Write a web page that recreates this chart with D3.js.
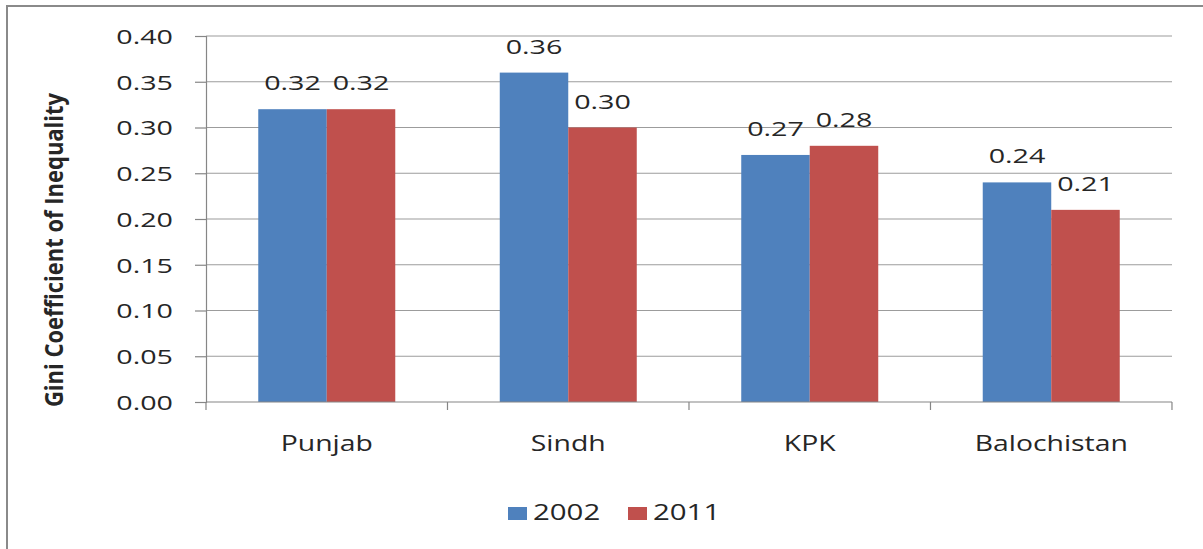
<!DOCTYPE html>
<html>
<head>
<meta charset="utf-8">
<script src="https://cdn.jsdelivr.net/npm/d3@7"></script>
<style>
  body { margin: 0; background: #fff; }
  text { font-family: "Open Sans", sans-serif; fill: #262626; }
</style>
</head>
<body>
<svg id="chart" width="1203" height="549"></svg>
<script>
const provinces = ["Punjab", "Sindh", "KPK", "Balochistan"]
const years = ["2002", "2011"]
const gini2002 = [0.32, 0.36, 0.27, 0.24]
const gini2011 = [0.32, 0.30, 0.28, 0.21]
const yTicks = [0, 0.05, 0.10, 0.15, 0.20, 0.25, 0.30, 0.35, 0.40]
const colours = ["#4F81BD", "#C0504D"]

// text in the picture is stretched sideways
const SX = 1.4

let svg = d3.select("#chart"),
    margin = {top: 36, left: 206, right: 31, bottom: 147},
    width = +svg.attr("width") - margin.left - margin.right,
    height = +svg.attr("height") - margin.top - margin.bottom

// outer frame, cut off at the right and bottom
svg.append("rect")
   .attr("x", 7).attr("y", 6)
   .attr("width", 1300).attr("height", 700)
   .attr("fill", "#fff")
   .attr("stroke", "#8a8a8a")
   .attr("stroke-width", 2)

let focus = svg.append("g")
               .attr("transform", "translate(" + margin.left + "," + margin.top + ")")

let x = d3.scaleBand()
          .domain(provinces)
          .range([0, width])
          .paddingInner(0.4327)
          .paddingOuter(0.2164)

let xs = d3.scaleBand()
           .domain(years)
           .range([0, x.bandwidth()])

let y = d3.scaleLinear()
          .domain([0, 0.40])
          .range([height, 0])

let series = years.map((yr, i) => ({
  year: yr,
  colour: colours[i],
  values: (i == 0 ? gini2002 : gini2011).map((v, j) => ({province: provinces[j], value: v}))
}))

// gridlines
focus.append("g")
     .selectAll("line")
     .data(yTicks.slice(1))
     .join("line")
     .attr("x1", 0).attr("x2", width)
     .attr("y1", d => y(d)).attr("y2", d => y(d))
     .attr("stroke", "#9c9c9c")
     .attr("stroke-width", 1.2)

// y axis
let yAxis = focus.append("g")
                 .call(d3.axisLeft(y).tickValues(yTicks).tickSize(11).tickFormat(d3.format(".2f")))
yAxis.select(".domain").attr("stroke", "#868686").attr("stroke-width", 1.2)
yAxis.selectAll(".tick line").attr("stroke", "#868686").attr("stroke-width", 1.2)
yAxis.selectAll(".tick text").remove()
yAxis.selectAll(".tick")
     .append("text")
     .attr("text-anchor", "end")
     .attr("dy", "0.36em")
     .attr("transform", "translate(-33,0) scale(" + SX + ",1)")
     .style("font-size", "20.5px")
     .text(d => d3.format(".2f")(d))

// bars
let groups = focus.selectAll(".series")
                  .data(series)
                  .join("g")
                  .attr("class", "series")
                  .attr("fill", d => d.colour)

groups.selectAll("rect")
      .data(d => d.values.map(v => ({...v, year: d.year})))
      .join("rect")
      .attr("x", d => x(d.province) + xs(d.year))
      .attr("width", xs.bandwidth())
      .attr("y", d => y(d.value))
      .attr("height", d => height - y(d.value))

// data labels
groups.selectAll("text")
      .data(d => d.values.map(v => ({...v, year: d.year})))
      .join("text")
      .attr("text-anchor", "middle")
      .attr("transform", d => "translate(" + (x(d.province) + xs(d.year) + xs.bandwidth() / 2) + "," + (y(d.value) - 19) + ") scale(" + SX + ",1)")
      .style("font-size", "20.5px")
      .text(d => d3.format(".2f")(d.value))

// x axis with ticks between categories
let xAxis = focus.append("g")
                 .attr("transform", "translate(0," + height + ")")
xAxis.append("line")
     .attr("x1", 0).attr("x2", width)
     .attr("stroke", "#868686").attr("stroke-width", 1.2)
xAxis.selectAll(".sep")
     .data(d3.range(provinces.length + 1))
     .join("line")
     .attr("class", "sep")
     .attr("x1", i => i * x.step()).attr("x2", i => i * x.step())
     .attr("y1", 0).attr("y2", 8)
     .attr("stroke", "#868686").attr("stroke-width", 1.2)
xAxis.selectAll(".cat")
     .data(provinces)
     .join("text")
     .attr("class", "cat")
     .attr("text-anchor", "middle")
     .attr("transform", d => "translate(" + (x(d) + x.bandwidth() / 2) + ",49) scale(1.32,1)")
     .style("font-size", "21.5px")
     .text(d => d)

// y label
svg.append("text")
   .attr("text-anchor", "middle")
   .attr("transform", "translate(63,250) scale(1.1,1) rotate(-90)")
   .style("font-size", "22px")
   .style("font-weight", "bold")
   .text("Gini Coefficient of Inequality")

// legend
let legend = svg.append("g")
                .attr("transform", "translate(508,520)")
let items = legend.selectAll("g")
                  .data(series)
                  .join("g")
                  .attr("transform", (d, i) => "translate(" + i * 120 + ",0)")
items.append("rect")
     .attr("y", -13).attr("width", 19).attr("height", 13)
     .attr("fill", d => d.colour)
items.append("text")
     .attr("transform", "translate(25,0) scale(" + SX + ",1)")
     .style("font-size", "21px")
     .text(d => d.year)
</script>
</body>
</html>
